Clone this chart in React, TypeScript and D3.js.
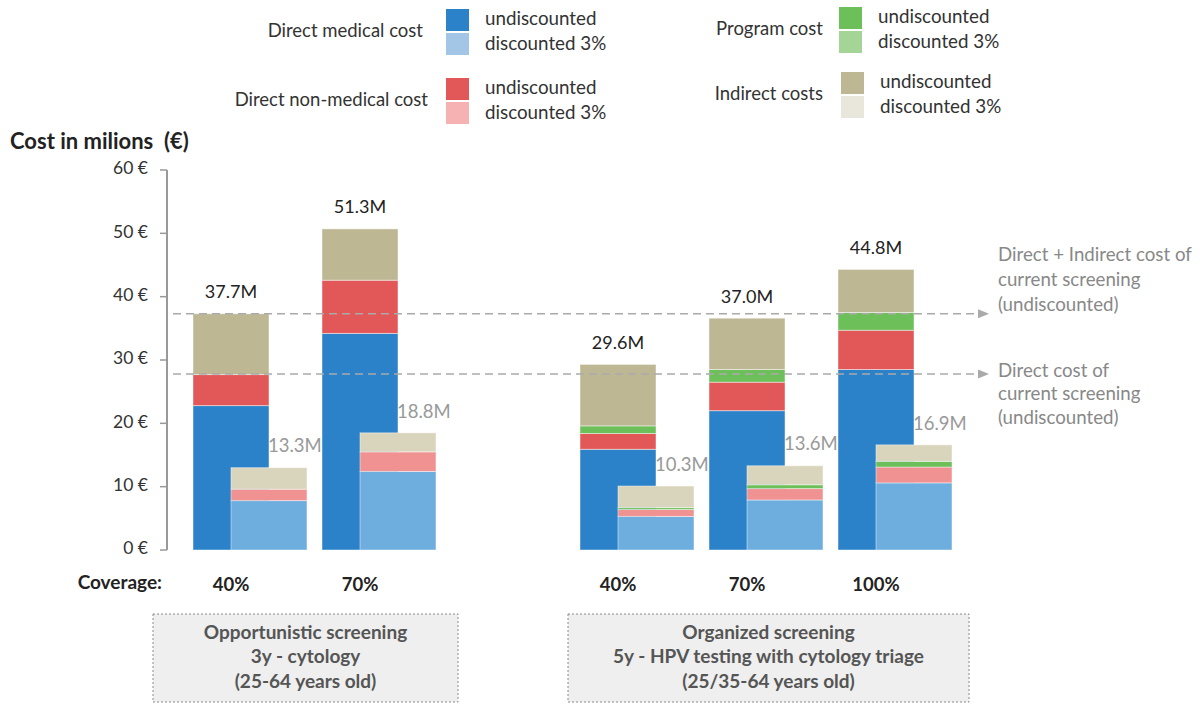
import React from 'react';
import * as d3 from 'd3';

// scenario slots (the empty one is the gap between the two screening groups)
const scenarios = ['opp-40', 'opp-70', 'gap', 'org-40', 'org-70', 'org-100'];
const coverageLabels = ['40%', '70%', '', '40%', '70%', '100%'];

// undiscounted costs, millions €
const medicalUndisc = [22.8, 34.2, 0, 15.9, 22.0, 28.5];
const nonMedicalUndisc = [4.9, 8.4, 0, 2.5, 4.5, 6.2];
const programUndisc = [0, 0, 0, 1.2, 2.0, 2.8];
const indirectUndisc = [9.6, 8.1, 0, 9.7, 8.1, 6.8];

// discounted 3%
const medicalDisc = [7.8, 12.4, 0, 5.3, 7.9, 10.6];
const nonMedicalDisc = [1.8, 3.1, 0, 1.1, 1.8, 2.5];
const programDisc = [0, 0, 0, 0.3, 0.6, 0.9];
const indirectDisc = [3.4, 3.0, 0, 3.4, 3.0, 2.6];

const undiscTotals = ['37.7M', '51.3M', '', '29.6M', '37.0M', '44.8M'];
const discTotals = ['13.3M', '18.8M', '', '10.3M', '13.6M', '16.9M'];

const yTicks = [0, 10, 20, 30, 40, 50, 60];

const legendGroups = ['Direct medical cost', 'Direct non-medical cost', 'Program cost', 'Indirect costs'];
const legendItems = ['undiscounted', 'discounted 3%'];

const refValues = [37.3, 27.8];
const refTexts = [
  ['Direct + Indirect cost of', 'current screening', '(undiscounted)'],
  ['Direct cost of', 'current screening', '(undiscounted)'],
];

const groupTexts = [
  ['Opportunistic screening', '3y - cytology', '(25-64 years old)'],
  ['Organized screening', '5y - HPV testing with cytology triage', '(25/35-64 years old)'],
];

const keys = ['medical', 'nonMedical', 'program', 'indirect'];
const undiscColors = ['#2b82c8', '#e25757', '#6cbf59', '#bdb794'];
const discColors = ['#6eaedf', '#f09292', '#6cbf59', '#d9d4bc'];
const legendLight = ['#a3c6e7', '#f6b2b2', '#a4d596', '#e9e7dc'];

const FONT = 'Lato, "Open Sans", sans-serif';

const undiscRows = scenarios.map((s, i) => ({
  scenario: s,
  medical: medicalUndisc[i],
  nonMedical: nonMedicalUndisc[i],
  program: programUndisc[i],
  indirect: indirectUndisc[i],
}));
const discRows = scenarios.map((s, i) => ({
  scenario: s,
  medical: medicalDisc[i],
  nonMedical: nonMedicalDisc[i],
  program: programDisc[i],
  indirect: indirectDisc[i],
}));

export default function App() {
  const width = 1202;
  const height = 704;

  const x = d3.scaleBand<string>().domain(scenarios).range([193, 914]).paddingInner(0.411).paddingOuter(0);
  const y = d3.scaleLinear().domain([0, 60]).range([550, 170]);
  const bw = x.bandwidth();
  const discShift = bw * 0.5;

  const stack = d3.stack<any>().keys(keys);
  const undiscSeries = stack(undiscRows);
  const discSeries = stack(discRows);

  const top = (series: any[], i: number) => series[series.length - 1][i][1];

  // legend layout: [textRightX, swatchX, textX, topY]
  const legendPos = [
    [423, 446, 485, 9],
    [428, 446, 485, 78],
    [823, 839, 878, 7],
    [823, 841, 880, 72],
  ];

  const boxes = [
    [153, 614, 305, 88],
    [568, 614, 401, 88],
  ];

  return (
    <svg width={width} height={height} style={{ position: 'absolute', left: 0, top: 0, background: '#fff' }} fontFamily={FONT}>
      {/* legend */}
      {legendGroups.map((g, gi) => {
        const [tx, sx, lx, ty] = legendPos[gi];
        return (
          <g key={g}>
            <text x={tx} y={ty + 23} textAnchor="end" dominantBaseline="middle" fontSize={18.5} fill="#333">{g}</text>
            <rect x={sx} y={ty} width={23} height={22} fill={undiscColors[gi]} />
            <rect x={sx} y={ty + 24} width={23} height={22} fill={legendLight[gi]} />
            {legendItems.map((t, ti) => (
              <text key={t} x={lx} y={ty + 11 + ti * 25} dominantBaseline="middle" fontSize={18.8} fill="#333">{t}</text>
            ))}
          </g>
        );
      })}

      {/* title */}
      <text x={10} y={149} fontSize={22} fontWeight="bold" fill="#222" style={{ whiteSpace: 'pre' }}>{'Cost in milions  (€)'}</text>

      {/* y axis */}
      <line x1={167} x2={167} y1={y(60)} y2={y(0)} stroke="#999" strokeWidth={2} />
      {yTicks.map(t => (
        <g key={t}>
          <line x1={160} x2={167} y1={y(t)} y2={y(t)} stroke="#999" strokeWidth={1.5} />
          <text x={148} y={y(t)} textAnchor="end" dominantBaseline="middle" fontSize={17.5} fill="#333">{`${t} €`}</text>
        </g>
      ))}

      {/* undiscounted bars */}
      {undiscSeries.map((s, si) => (
        <g key={'u' + s.key}>
          {s.map((d: any, i: number) => (d[1] - d[0] > 0 ? (
            <rect key={i} x={x(scenarios[i])} y={y(d[1])} width={bw} height={y(d[0]) - y(d[1])}
              fill={undiscColors[si]} stroke="rgba(255,255,255,0.45)" strokeWidth={1} />
          ) : null))}
        </g>
      ))}

      {/* discounted bars */}
      {discSeries.map((s, si) => (
        <g key={'d' + s.key}>
          {s.map((d: any, i: number) => (d[1] - d[0] > 0 ? (
            <rect key={i} x={(x(scenarios[i]) as number) + discShift} y={y(d[1])} width={bw} height={y(d[0]) - y(d[1])}
              fill={discColors[si]} stroke="rgba(255,255,255,0.45)" strokeWidth={1} />
          ) : null))}
        </g>
      ))}

      {/* reference lines */}
      <defs>
        <marker id="arr" viewBox="0 0 10 10" refX={9} refY={5} markerWidth={7} markerHeight={7} orient="auto">
          <path d="M0,1 L10,5 L0,9 Z" fill="#aaa" />
        </marker>
      </defs>
      {refValues.map((v, ri) => (
        <g key={ri}>
          <line x1={173} x2={988} y1={y(v)} y2={y(v)} stroke="#aaa" strokeWidth={1.6} strokeDasharray="8 5" markerEnd="url(#arr)" />
          {refTexts[ri].map((t, li) => (
            <text key={li} x={998} y={ri === 0 ? y(v) - 58 + li * 25 : y(v) - 2 + li * 23.5}
              dominantBaseline="middle" fontSize={18.7} fill="#888">{t}</text>
          ))}
        </g>
      ))}

      {/* totals */}
      {scenarios.map((s, i) => undiscTotals[i] ? (
        <g key={'t' + s}>
          <text x={(x(s) as number) + bw / 2} y={y(top(undiscSeries, i)) - 20} textAnchor="middle" dominantBaseline="middle" fontSize={18} fill="#222">{undiscTotals[i]}</text>
          <text x={(x(s) as number) + discShift + bw * 0.84} y={y(top(discSeries, i)) - 20} textAnchor="middle" dominantBaseline="middle" fontSize={18.5} fill="#999">{discTotals[i]}</text>
        </g>
      ) : null)}

      {/* coverage row */}
      <text x={162} y={584} textAnchor="end" dominantBaseline="middle" fontSize={19} fontWeight="bold" fill="#222">Coverage:</text>
      {scenarios.map((s, i) => coverageLabels[i] ? (
        <text key={'c' + s} x={(x(s) as number) + bw / 2} y={586} textAnchor="middle" dominantBaseline="middle" fontSize={18.5} fontWeight="bold" fill="#222">{coverageLabels[i]}</text>
      ) : null)}

      {/* group boxes */}
      {groupTexts.map((lines, gi) => {
        const [bx, by, bwid, bh] = boxes[gi];
        return (
          <g key={gi}>
            <rect x={bx} y={by} width={bwid} height={bh} fill="#eeefee" stroke="#8a8a8a" strokeWidth={1} strokeDasharray="2 2" />
            {lines.map((t, li) => (
              <text key={li} x={bx + bwid / 2} y={634 + li * 24.5} textAnchor="middle" dominantBaseline="middle" fontSize={19} fontWeight="bold" fill="#555">{t}</text>
            ))}
          </g>
        );
      })}
    </svg>
  );
}
